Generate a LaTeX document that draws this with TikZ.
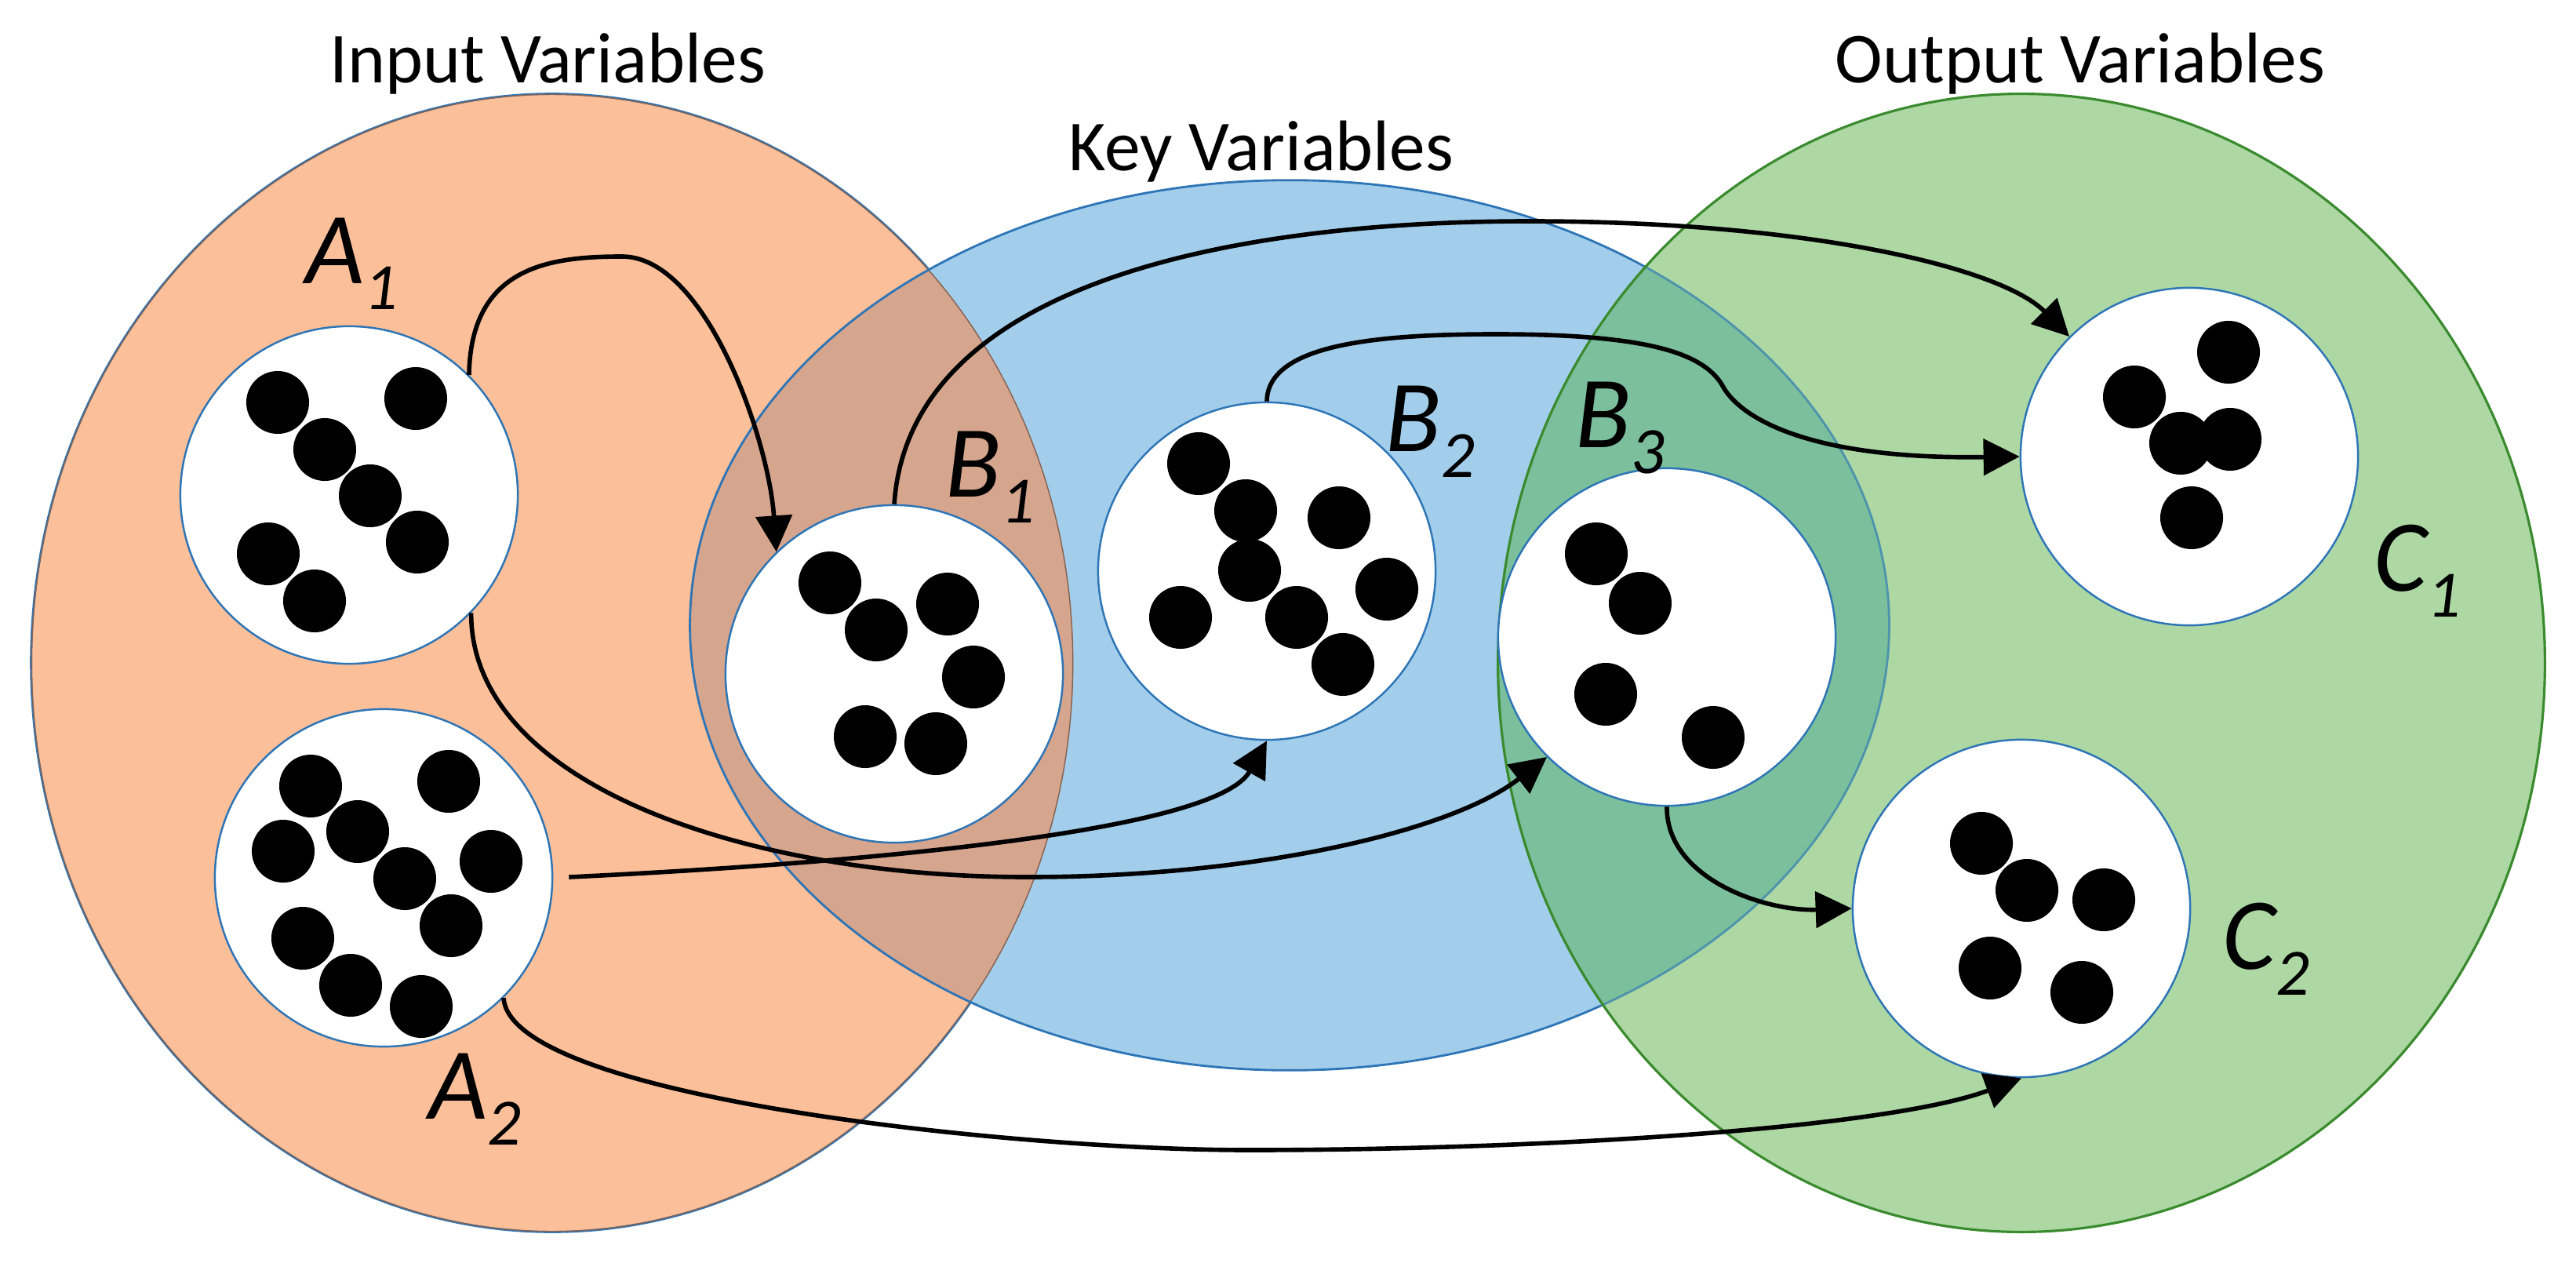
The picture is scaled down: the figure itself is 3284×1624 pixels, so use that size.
\documentclass[tikz,border=0pt]{standalone}
\usepackage{fontspec}
\setmainfont{Carlito}
\usetikzlibrary{arrows.meta}
\definecolor{orng}{HTML}{FBBF99}
\definecolor{blu}{HTML}{A2CEEC}
\definecolor{grn}{HTML}{ADD8A4}
\definecolor{ob}{HTML}{D6A58D}
\definecolor{bg}{HTML}{7BBF9C}
\definecolor{edgeb}{HTML}{2E75B6}
\definecolor{edgeg}{HTML}{3A8A2E}
\newcommand\vlab[2]{\itshape #1\raisebox{-0.26em}{\fontsize{24}{24}\selectfont #2}}
\begin{document}
\begin{tikzpicture}[x=0.01cm,y=-0.01cm,
  bubble/.style={circle,draw=edgeb,line width=0.7pt,fill=white,minimum size=4.3cm,inner sep=0pt},
  dot/.style={fill=black},
  lab/.style={anchor=base west,inner sep=0pt,font=\fontsize{37}{40}\selectfont},
  title/.style={anchor=base,inner sep=0pt,font=\fontsize{26}{30}\selectfont},
  con/.style={line width=1.6pt,-{Triangle[length=0.46cm,width=0.46cm]}}]
\useasboundingbox (0,0) rectangle (3284,1624);
% big sets
\def\orE{(704,845) ellipse [x radius=6.64cm,y radius=7.25cm]}
\def\blE{(1644,797) ellipse [x radius=7.64cm,y radius=5.67cm]}
\def\grE{(2577,845) ellipse [x radius=6.67cm,y radius=7.25cm]}
\fill[orng] \orE;
\draw[edgeb,line width=0.8pt] \orE;
\fill[blu] \blE;
\begin{scope}
 \clip \orE;
 \fill[ob] \blE;
 \draw[black!40!ob,line width=0.8pt] \orE;
\end{scope}
\draw[edgeb,line width=0.8pt] \blE;
\fill[grn] \grE;
\begin{scope}
 \clip \grE;
 \fill[bg] \blE;
 \draw[edgeb!60!bg,line width=0.8pt] \blE;
\end{scope}
\draw[edgeg,line width=0.9pt] \grE;
% titles
\node[title] (tin) at (698,105) {Input Variables};
\node[title] (tkey) at (1608,217) {Key Variables};
\node[title] (tout) at (2652,105) {Output Variables};
% bubbles
\node[bubble] (A1) at (445,631) {};
\node[bubble] (A2) at (489,1119) {};
\node[bubble] (B1) at (1140,859) {};
\node[bubble] (B2) at (1615,728) {};
\node[bubble] (B3) at (2125,812) {};
\node[bubble] (C1) at (2791,582) {};
\node[bubble] (C2) at (2577,1158) {};
% dots
\foreach \p in {(354,513),(530,508),(414,573),(472,632),(532,691),(342,706),(401,766),
  (396,1002),(572,996),(361,1085),(456,1060),(516,1120),(626,1098),(386,1196),(575,1180),(447,1256),(537,1283),
  (1058,743),(1117,803),(1208,770),(1241,863),(1103,939),(1193,948),
  (1528,591),(1588,651),(1707,660),(1593,727),(1768,751),(1505,787),(1653,787),(1712,847),
  (2035,706),(2091,769),(2047,885),(2184,940),
  (2841,449),(2721,506),(2780,565),(2843,560),(2794,660),
  (2526,1075),(2584,1135),(2682,1147),(2537,1234),(2654,1265)}
  \fill[dot] \p circle [radius=0.4cm];
% labels
\node[lab] (lA1) at (389,361) {\vlab{A}{1}};
\node[lab] (lA2) at (546,1426) {\vlab{A}{2}};
\node[lab] (lB1) at (1205,633) {\vlab{B}{1}};
\node[lab] (lB2) at (1766,575) {\vlab{B}{2}};
\node[lab] (lB3) at (2008,570) {\vlab{B}{3}};
\node[lab] (lC1) at (3026,753) {\vlab{C}{1}};
\node[lab] (lC2) at (2833,1235) {\vlab{C}{2}};
% connectors
\draw[con] (A1.45.7) .. controls (600,340) and (700,327) .. (793,327)
  .. controls (900,327) and (980,560) .. (B1.134.8);
\draw[con] (B1.north) .. controls (1160,350) and (1600,282) .. (1950,282)
  .. controls (2300,282) and (2550,340) .. (C1.135);
\draw[con] (B2.north) .. controls (1616,440) and (1750,426) .. (1907,426)
  .. controls (2100,426) and (2170,450) .. (2195,490)
  .. controls (2215,530) and (2300,586) .. (C1.west);
\draw[con] (A1.-44) .. controls (600,1000) and (950,1118) .. (1310,1118)
  .. controls (1600,1118) and (1850,1060) .. (B3.225);
\draw[con,shorten <=0.2cm] (A2.east) .. controls (1100,1100) and (1550,1060) .. (B2.south);
\draw[con] (A2.-45.5) .. controls (650,1400) and (1300,1466) .. (1591,1466)
  .. controls (1950,1466) and (2400,1440) .. (C2.south);
\draw[con] (B3.south) .. controls (2124,1120) and (2250,1162) .. (C2.west);
\end{tikzpicture}
\end{document}
